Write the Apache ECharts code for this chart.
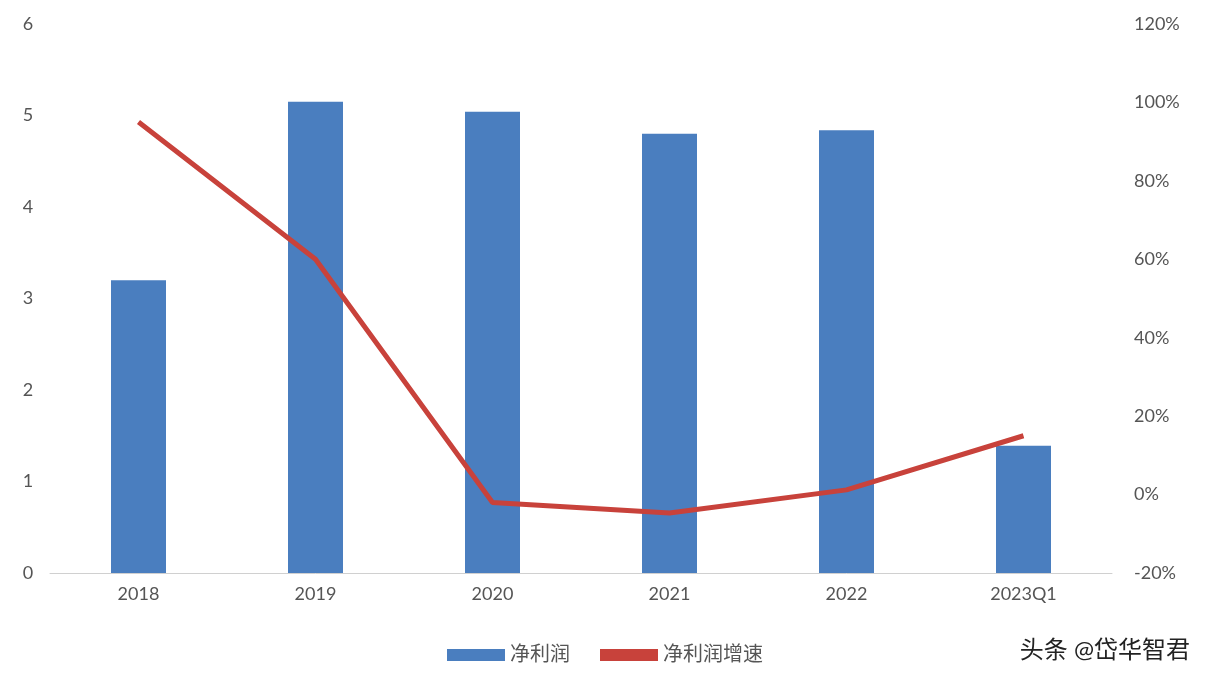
<!DOCTYPE html>
<html><head><meta charset="utf-8">
<script src="https://cdn.jsdelivr.net/npm/echarts@6/dist/echarts.min.js"></script>
<style>html,body{margin:0;background:#fff}#c{width:1210px;height:680px}</style>
</head><body><div id="c"></div>
<script>
const categories = ['2018', '2019', '2020', '2021', '2022', '2023Q1'];
const netProfit = [3.2, 5.15, 5.04, 4.8, 4.84, 1.39];
const profitGrowth = [95, 60, -2, -4.7, 1.2, 15];

const chart = echarts.init(document.getElementById('c'));
const font = 'Lato, "Noto Sans CJK SC", sans-serif';
chart.setOption({
  textStyle: {fontFamily: font},
  grid: {left: 50, right: 98, top: 24, bottom: 107},
  legend: {
    bottom: 10, left: 'center', itemWidth: 58, itemHeight: 12, itemGap: 30,
    textStyle: {fontSize: 20, color: '#555', fontFamily: font},
    data: [{name: '净利润', icon: 'rect'}, {name: '净利润增速', icon: 'rect', itemStyle: {color: '#c8423b'}}]
  },
  graphic: [{type: 'text', right: 20, bottom: 18, style: {text: '头条 @岱华智君', fontSize: 24, fill: '#222', fontFamily: font}}],
  xAxis: {
    type: 'category', data: categories,
    axisLine: {lineStyle: {color: '#d0d0d0'}}, axisTick: {show: false},
    axisLabel: {fontSize: 18, color: '#555', margin: 12}
  },
  yAxis: [
    {type: 'value', min: 0, max: 6, interval: 1, splitLine: {show: false},
     axisLabel: {fontSize: 18, color: '#555', margin: 22, align: 'center'}},
    {type: 'value', min: -20, max: 120, interval: 20, splitLine: {show: false},
     axisLabel: {fontSize: 18, color: '#555', formatter: '{value}%', margin: 22}}
  ],
  series: [
    {name: '净利润', type: 'bar', data: netProfit, barWidth: 55, itemStyle: {color: '#4a7ebf'}},
    {name: '净利润增速', type: 'line', yAxisIndex: 1, data: profitGrowth, symbol: 'none',
     lineStyle: {color: '#c8423b', width: 5}, itemStyle: {color: '#c8423b'}}
  ]
});
</script></body></html>
